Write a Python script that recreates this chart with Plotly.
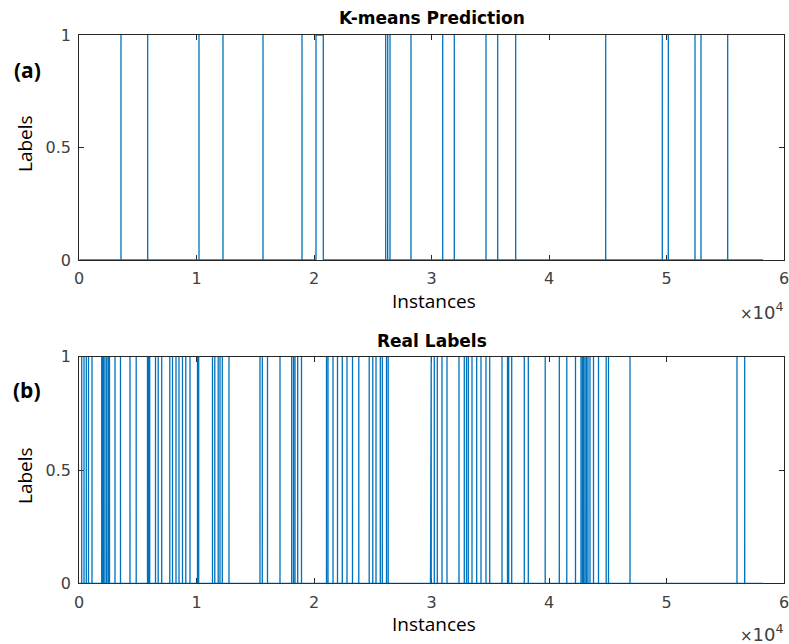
import plotly.graph_objects as go

# ---- data -------------------------------------------------------------
n_instances = 58200

# K-means predicted label-1 runs (start, end instance index)
kmeans_starts = [3557, 5830, 10196, 12238, 15643, 18962, 20153, 26085, 26255, 26451,
                 28238, 30936, 31923, 34621, 35617, 37149, 44809, 49626, 50136,
                 52409, 52919, 55191]
kmeans_ends = [3557, 5830, 10196, 12238, 15643, 18962, 20774, 26085, 26255, 26451,
               28238, 30936, 31923, 34621, 35617, 37149, 44809, 49626, 50136,
               52409, 52919, 55191]

# Ground-truth label-1 instances
real_positions = [213, 409, 604, 791, 1089, 1915, 1990, 2068, 2196, 2340, 2477, 2579,
                  3047, 3515, 4323, 4851, 5813, 5900, 6000, 6494, 6723, 7021, 7711,
                  7940, 8238, 8494, 8791, 9072, 9430, 10068, 10170, 11345, 11540,
                  11830, 11983, 12179, 12749, 15387, 15583, 16026, 17089, 18085,
                  18238, 18366, 18596, 18919, 21047, 21174, 21600, 21983, 22391,
                  22791, 23260, 23796, 24681, 24987, 25260, 25626, 25796, 26153,
                  26298, 29898, 29960, 30221, 30477, 30877, 31302, 32323, 32774,
                  32962, 33115, 33430, 33830, 34196, 34621, 34936, 35983, 36451,
                  36553, 36809, 37881, 38221, 39660, 40860, 41498, 42238, 42706,
                  42830, 42919, 43047, 43174, 43302, 43472, 43770, 44196, 44851,
                  45047, 46877, 55983, 56638]

x_ticks = [0, 10000, 20000, 30000, 40000, 50000, 60000]
x_tick_text = ["0", "1", "2", "3", "4", "5", "6"]
y_ticks = [0, 0.5, 1]
y_tick_text = ["0", "0.5", "1"]


def label_series(starts, ends, n):
    """Expand label-1 runs into the 0/1 polyline of a full label vector."""
    xs, ys = [1], [0]
    for s, e in zip(starts, ends):
        xs += [s - 1, s, e, e + 1]
        ys += [0, 1, 1, 0]
    xs.append(n)
    ys.append(0)
    return xs, ys


kx, ky = label_series(kmeans_starts, kmeans_ends, n_instances)
rx, ry = label_series(real_positions, real_positions, n_instances)

W, H = 789, 644
LINE = "#0072BD"
AX = "#262626"
TICKFONT = dict(family="DejaVu Sans", size=16, color="#404040")

fig = go.Figure()
fig.add_trace(go.Scatter(x=kx, y=ky, mode="lines", line=dict(color=LINE, width=1.3),
                         xaxis="x", yaxis="y", showlegend=False, hoverinfo="skip"))
fig.add_trace(go.Scatter(x=rx, y=ry, mode="lines", line=dict(color=LINE, width=1.3),
                         xaxis="x2", yaxis="y2", showlegend=False, hoverinfo="skip"))

x0, x1 = 79.2 / W, 784.2 / W


def xaxis(anchor):
    return dict(domain=[x0, x1], range=[0, 60000], anchor=anchor, automargin=False,
                tickvals=x_ticks, ticktext=x_tick_text, ticks="inside", ticklen=5,
                tickcolor=AX, showline=True, linecolor=AX, linewidth=1, mirror="ticks",
                showgrid=False, zeroline=False, tickfont=TICKFONT, layer="below traces",
                ticklabelstandoff=4, ticklabeloverflow="allow")


def yaxis(anchor, dom):
    return dict(domain=dom, range=[0, 1], anchor=anchor, automargin=False,
                tickvals=y_ticks, ticktext=y_tick_text, ticks="inside", ticklen=5,
                tickcolor=AX, showline=True, linecolor=AX, linewidth=1, mirror="ticks",
                showgrid=False, zeroline=False, tickfont=TICKFONT, layer="below traces",
                ticklabelstandoff=4)


def py(p):
    return 1 - p / H


def px(p):
    return p / W


ann = []
title_font = dict(family="DejaVu Sans", size=17, color="#000000", weight="bold")
label_font = dict(family="Open Sans", size=19, color="#000000")
tag_font = dict(family="Open Sans", size=21, color="#000000", weight="bold")
mult_font = dict(family="DejaVu Sans", size=18, color="#404040")
for title, ty, xl_y, yl_y, tag, tag_y, mult_y in [
    ("K-means Prediction", 18, 301, 144, "(a)", 70, 311),
    ("Real Labels", 341, 623.5, 476, "(b)", 390, 633),
]:
    ann.append(dict(text=title, x=px(432), y=py(ty), font=title_font))
    ann.append(dict(text="Instances", x=px(434), y=py(xl_y), font=label_font))
    ann.append(dict(text="Labels", x=px(25), y=py(yl_y), font=label_font, textangle=-90))
    ann.append(dict(text=tag, x=px(27), y=py(tag_y), font=tag_font))
    ann.append(dict(text="<span style='font-size:15px'>×</span>10<sup>4</sup>",
                    x=px(762), y=py(mult_y), font=mult_font))
for a in ann:
    a.update(xref="paper", yref="paper", showarrow=False, xanchor="center", yanchor="middle")

fig.update_layout(
    width=W, height=H, margin=dict(l=0, r=0, t=0, b=0),
    paper_bgcolor="white", plot_bgcolor="white",
    xaxis=xaxis("y"), yaxis=yaxis("x", [py(260), py(35)]),
    xaxis2=xaxis("y2"), yaxis2=yaxis("x2", [py(583.3), py(356.7)]),
    annotations=ann,
)

fig.write_html("out.html")
